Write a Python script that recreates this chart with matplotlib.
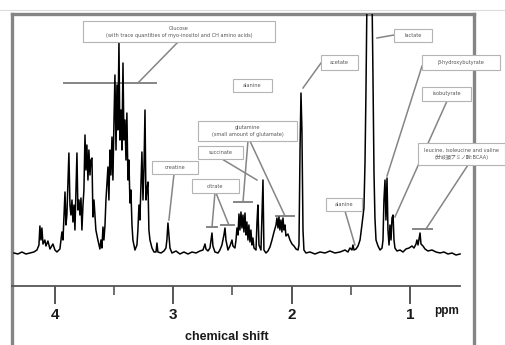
import matplotlib
matplotlib.use('Agg')
import matplotlib.pyplot as plt
from matplotlib.patches import Rectangle
from matplotlib.lines import Line2D

# spectrum: chemical shift (ppm) and height above baseline
ppm = [4.346, 4.313, 4.279, 4.245, 4.211, 4.178, 4.152, 4.135, 4.127, 4.118, 4.110, 4.101,
       4.085, 4.076, 4.059, 4.042, 4.017, 4.000, 3.983, 3.958, 3.941, 3.932, 3.915, 3.907,
       3.899, 3.882, 3.873, 3.865, 3.856, 3.848, 3.839, 3.831, 3.814, 3.806, 3.797, 3.789,
       3.780, 3.772, 3.763, 3.755, 3.746, 3.738, 3.730, 3.721, 3.713, 3.704, 3.696, 3.687,
       3.679, 3.670, 3.654, 3.637, 3.620, 3.611, 3.603, 3.594, 3.586, 3.577, 3.569, 3.561,
       3.552, 3.544, 3.535, 3.527, 3.518, 3.510, 3.501, 3.493, 3.484, 3.476, 3.468, 3.459,
       3.451, 3.442, 3.434, 3.425, 3.417, 3.408, 3.400, 3.392, 3.383, 3.375, 3.366, 3.358,
       3.349, 3.341, 3.324, 3.307, 3.299, 3.290, 3.282, 3.273, 3.265, 3.256, 3.248, 3.239,
       3.231, 3.223, 3.214, 3.206, 3.197, 3.180, 3.163, 3.146, 3.138, 3.130, 3.104, 3.079,
       3.062, 3.054, 3.045, 3.037, 3.028, 3.011, 2.977, 2.944, 2.910, 2.876, 2.842, 2.808,
       2.775, 2.749, 2.732, 2.724, 2.707, 2.690, 2.673, 2.665, 2.648, 2.622, 2.606, 2.589,
       2.572, 2.563, 2.555, 2.538, 2.521, 2.504, 2.496, 2.479, 2.470, 2.462, 2.453, 2.445,
       2.437, 2.428, 2.420, 2.411, 2.403, 2.394, 2.386, 2.378, 2.369, 2.361, 2.352, 2.344,
       2.335, 2.327, 2.318, 2.301, 2.293, 2.285, 2.276, 2.259, 2.242, 2.234, 2.217, 2.200,
       2.183, 2.166, 2.149, 2.132, 2.124, 2.115, 2.107, 2.099, 2.090, 2.082, 2.073, 2.065,
       2.056, 2.048, 2.031, 2.014, 1.997, 1.980, 1.963, 1.946, 1.938, 1.929, 1.921, 1.913,
       1.904, 1.896, 1.879, 1.845, 1.803, 1.760, 1.718, 1.676, 1.634, 1.591, 1.549, 1.524,
       1.507, 1.490, 1.482, 1.473, 1.456, 1.439, 1.422, 1.406, 1.389, 1.380, 1.372, 1.363,
       1.355, 1.346, 1.338, 1.329, 1.321, 1.313, 1.304, 1.296, 1.287, 1.270, 1.253, 1.236,
       1.228, 1.220, 1.211, 1.203, 1.194, 1.186, 1.177, 1.169, 1.160, 1.152, 1.143, 1.135,
       1.127, 1.110, 1.084, 1.059, 1.034, 1.008, 0.983, 0.966, 0.949, 0.941, 0.932, 0.915,
       0.907, 0.890, 0.873, 0.848, 0.814, 0.780, 0.746, 0.713, 0.679, 0.645, 0.611, 0.577]
height = [0, -1, 1, -1, 0, 1, 3, 8, 27, 13, 25, 9,
          13, 7, 12, 4, 9, 3, 1, 4, 21, 13, 61, 28,
          38, 100, 48, 38, 53, 31, 48, 23, 100, 43, 53, 38,
          55, 23, 48, 63, 118, 83, 108, 73, 103, 78, 93, 95,
          36, 53, 23, 13, 4, 13, 5, 26, 13, 28, 53, 68,
          86, 53, 103, 78, 116, 73, 133, 178, 103, 168, 123, 211,
          113, 143, 103, 190, 113, 133, 93, 140, 73, 93, 50, 63,
          28, 13, 3, 8, 23, 48, 33, 68, 101, 53, 83, 143,
          53, 63, 71, 23, 13, 5, 1, 1, 10, 1, 0, 2,
          5, 13, 30, 18, 5, 0, 2, -1, 1, -1, 1, 0,
          2, 3, 9, 4, 2, 5, 20, 7, 1, 0, 3, 8,
          18, 25, 13, 3, 7, 13, 7, 5, 13, 25, 18, 39,
          23, 41, 25, 38, 21, 40, 18, 31, 13, 28, 11, 23,
          8, 15, 5, 3, 30, 48, 8, 3, 73, 3, 0, 2,
          6, 13, 21, 28, 35, 25, 36, 23, 33, 21, 35, 23,
          28, 17, 19, 13, 9, 7, 4, 3, 8, 103, 160, 123,
          23, 3, 0, 1, -1, 1, 0, 2, 0, 1, 3, 1,
          5, 3, 8, 3, 4, 7, 13, 28, 45, 90, 160, 260,
          273, 253, 273, 253, 260, 180, 80, 35, 13, 7, 3, 5,
          13, 53, 73, 33, 75, 23, 8, 28, 13, 35, 38, 13,
          5, 2, 3, 1, 4, 5, 7, 5, 9, 13, 8, 20,
          9, 7, 4, 2, 3, 1, 0, 1, -1, 0, -2, -1]

major_ticks = [4, 3, 2, 1]
minor_ticks = [3.5, 2.5, 1.5]

# annotation boxes: text, box (left ppm, right ppm, bottom, top), leader lines, bars
labels = [
    ('Glucose\n(with trace quantities of myo-inositol and CH amino acids)',
     (3.763, 2.141, 211, 232), [((2.960, 211), (3.299, 170))], [(3.924, 3.146, 170)]),
    ('alanine', (2.496, 2.166, 161, 174), [], []),
    ('acetate', (1.752, 1.439, 183, 198), [((1.752, 190), (1.904, 165))], []),
    ('lactate', (1.135, 0.814, 211, 224), [((1.135, 218), (1.279, 215))], []),
    ('β-hydroxybutyrate', (0.898, 0.239, 183, 198), [((0.898, 187), (1.194, 77))], []),
    ('isobutyrate', (0.898, 0.484, 152, 166), [((0.687, 152), (1.127, 36))], []),
    ('leucine, isoleucine and valine\n(分岐鎖アミノ酸:BCAA)', (0.932, 0.197, 88, 110),
     [((0.510, 88), (0.865, 24))], [(0.975, 0.814, 24)]),
    ('glutamine\n(small amount of glutamate)', (2.791, 1.955, 112, 132),
     [((2.369, 112), (2.411, 51)), ((2.352, 112), (2.056, 37))],
     [(2.487, 2.335, 51), (2.132, 1.980, 37)]),
    ('succinate', (2.791, 2.411, 94, 107), [((2.589, 94), (2.293, 73))], []),
    ('creatine', (3.180, 2.791, 79, 92), [((2.994, 79), (3.037, 33))], []),
    ('citrate', (2.842, 2.445, 60, 74),
     [((2.648, 60), (2.673, 26)), ((2.639, 60), (2.530, 28))],
     [(2.715, 2.631, 26), (2.597, 2.487, 28)]),
    ('alanine', (1.710, 1.406, 42, 55), [((1.549, 42), (1.465, 8))], []),
]

fig = plt.figure(figsize=(5.05, 3.45), dpi=100)
ax = fig.add_axes([11.5 / 505, 0, (474 - 11.5) / 505, 1 - 13.5 / 345])
ax.set_xlim(4.367, 0.459)
ax.set_ylim(-92, 239.5)

ax.plot(ppm, height, color='black', lw=1.1, zorder=5)

frame = '#858585'
for s in ['left', 'right', 'top']:
    ax.spines[s].set_color(frame)
    ax.spines[s].set_linewidth(2.4)
ax.spines['bottom'].set_position(('data', -33))
ax.spines['bottom'].set_bounds(4.367, 0.58)
ax.spines['bottom'].set_color('#555555')
ax.spines['bottom'].set_linewidth(1.3)
ax.set_yticks([])
ax.set_xticks(major_ticks)
ax.set_xticklabels([str(t) for t in major_ticks])
ax.set_xticks(minor_ticks, minor=True)
ax.tick_params(axis='x', which='major', length=13, width=1.4, color='#555555',
               direction='out', pad=3, labelsize=11, labelcolor='#1a1a1a')
ax.tick_params(axis='x', which='minor', length=6.5, width=1.2, color='#555555', direction='out')
for t in ax.get_xticklabels():
    t.set_family('Liberation Sans')
    t.set_fontweight('bold')

ax.text(0.687, -58, 'ppm', ha='center', va='center', fontsize=8.5, fontweight='bold',
        family='Liberation Sans', color='#1a1a1a', clip_on=False)
ax.text(2.546, -84, 'chemical shift', ha='center', va='center', fontsize=9, fontweight='bold',
        family='Liberation Sans', color='#1a1a1a', clip_on=False)

line_col = '#858585'
for text, (x0, x1, y0, y1), leaders, bars in labels:
    for (xa, ya), (xb, yb) in leaders:
        ax.plot([xa, xb], [ya, yb], color=line_col, lw=1.1, zorder=3, clip_on=False)
    for xa, xb, yb in bars:
        ax.plot([xa, xb], [yb, yb], color=line_col, lw=1.4, zorder=3, clip_on=False)
    ax.add_patch(Rectangle((x0, y0), x1 - x0, y1 - y0, facecolor='white', edgecolor='#b4b4b4',
                           lw=0.8, zorder=6, clip_on=False))
    ax.text((x0 + x1) / 2, (y0 + y1) / 2, text, ha='center', va='center', fontsize=3.6,
            color='#555555', zorder=7, linespacing=1.5, clip_on=False,
            family=['DejaVu Sans', 'Noto Sans CJK JP'])

fig.add_artist(Line2D([0, 1], [1 - 10 / 345, 1 - 10 / 345], color='#dcdcdc', lw=0.8))

fig.savefig('out.png', dpi=100)
